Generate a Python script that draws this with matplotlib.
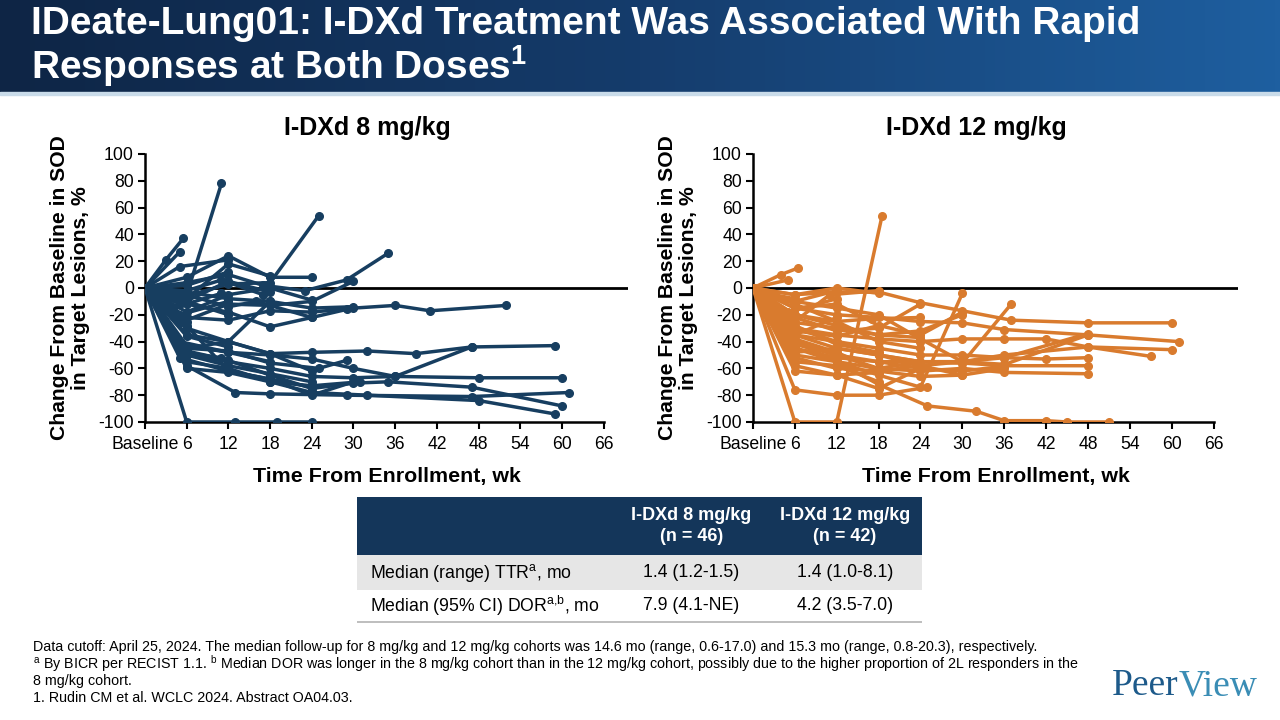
import numpy as np
import matplotlib
matplotlib.use("Agg")
import matplotlib.pyplot as plt
from matplotlib.patches import Rectangle
from matplotlib.colors import LinearSegmentedColormap

plt.rcParams['font.family'] = ['Liberation Sans', 'DejaVu Sans']
plt.rcParams['axes.unicode_minus'] = False

# spider plot data, % change in SOD vs week
dose8_weeks = [
    [0, 6, 13, 19, 24], [0, 6, 11], [0, 3, 5.5], [0, 5], [0, 6, 12, 18, 25],
    [0, 6, 12, 17, 23, 29, 35], [0, 6, 12, 18, 24], [0, 5, 12], [0, 6, 12, 18],
    [0, 6, 12, 18, 24, 30, 36, 41, 52], [0, 5, 12, 18, 24, 30], [0, 6, 12, 18, 24, 29],
    [0, 6, 12, 18, 24, 32, 39, 47, 59], [0, 6, 12, 18, 24, 30, 36, 48, 60],
    [0, 6, 12, 18, 24, 30, 35, 47, 60], [0, 6, 12, 18, 24, 32, 48, 59],
    [0, 6, 13, 18, 29, 47, 61], [0, 5, 12, 18, 24, 30], [0, 6, 12, 18, 25, 29],
    [0, 5, 12, 18, 24, 30, 36, 47], [0, 6, 12, 18, 24], [0, 5, 12], [0, 4, 11],
    [0, 6, 12, 18], [0, 6, 12, 18, 24], [0, 6, 12], [0, 6, 12, 18, 24],
    [0, 6, 12, 16, 24], [0, 6, 11, 17], [0, 5, 11], [0, 6, 12, 18],
    [0, 6, 12, 18, 24, 31], [0, 6], [0, 6, 12, 18, 24, 30],
    [0, 6, 12], [0, 5, 12, 18], [0, 6, 12, 18, 24], [0, 6, 12],
]
dose8_change = [
    [0, -100, -100, -100, -100], [0, -5, 78], [0, 21, 37], [0, 27], [0, -6, 3, 4, 54],
    [0, 4, 10, 2, -2, 6, 26], [0, 8, 24, 8, 8], [0, 16, 21], [0, -8, 18, 9],
    [0, -22, -24, -17, -18, -15, -13, -17, -13], [0, -26, -12, -13, -10, 5], [0, -12, -18, -29, -22, -16],
    [0, -45, -40, -49, -48, -47, -49, -44, -43], [0, -50, -55, -60, -66, -67, -66, -67, -67],
    [0, -47, -54, -65, -75, -71, -70, -74, -88], [0, -55, -60, -70, -78, -80, -84, -94],
    [0, -58, -78, -79, -80, -81, -78], [0, -52, -62, -68, -80, -70], [0, -45, -47, -56, -60, -54],
    [0, -40, -48, -50, -53, -60, -66, -44], [0, -30, -40, -49, -62], [0, -20, -10], [0, -15, -4],
    [0, -35, -40, -10], [0, -18, -5, 0, -9], [0, -10, -20], [0, -28, -62, -68, -74],
    [0, -5, -14, -10, -22], [0, -2, 6, -5], [0, -48, -52], [0, -43, -48, -55],
    [0, -60, -63, -70, -73, -70], [0, -25], [0, -3, -8, -10, -15, -14],
    [0, 2, 12], [0, -12, 5, -3], [0, -50, -58, -64, -70], [0, -36, -44],
]

dose12_weeks = [
    [0, 4, 6.5], [0, 5], [0, 6, 12, 18.5], [0, 6, 12, 18],
    [0, 6, 12, 18, 24, 30, 37, 48, 60], [0, 6, 12, 18, 24, 30, 36, 48, 61],
    [0, 6, 12, 18, 24, 30, 36, 42, 48, 57], [0, 6, 12, 18, 24, 30, 36, 48, 60],
    [0, 6, 12, 18, 24, 30, 36, 48], [0, 6, 12, 18, 25, 32, 36, 42, 45, 51],
    [0, 6, 12, 18, 25], [0, 6, 12, 18, 24, 30], [0, 6, 12, 18, 24, 30, 37],
    [0, 6, 12, 18, 24, 30, 36, 42, 48], [0, 6, 12, 18, 24, 30, 36, 48],
    [0, 6, 12, 18, 24, 30, 35, 48], [0, 6, 12], [0, 6, 12, 17, 24], [0, 6, 12, 18],
    [0, 5, 12, 18, 24, 30], [0, 6, 12, 18, 24], [0, 6, 12, 18], [0, 6, 12, 18, 24, 30],
    [0, 6, 12, 18, 24, 30, 36], [0, 6, 12, 18, 24], [0, 6, 12, 18], [0, 6, 12, 18, 24, 30],
    [0, 3, 6], [0, 6, 12, 18, 24, 30], [0, 6, 12, 18, 24, 30, 36],
    [0, 6, 12, 18, 24, 30, 36, 48], [0, 6, 12, 18, 24], [0, 6, 11, 18],
    [0, 5, 12], [0, 6, 12, 18], [0, 6, 12, 18, 24], [0, 6, 12],
]
dose12_change = [
    [0, 10, 15], [0, 6], [0, -100, -100, 54], [0, -5, 0, -4],
    [0, -5, -3, -3, -11, -17, -24, -26, -26], [0, -15, -20, -22, -25, -26, -31, -35, -40],
    [0, -30, -35, -38, -40, -38, -38, -38, -44, -51], [0, -35, -45, -50, -55, -55, -50, -44, -46],
    [0, -40, -50, -60, -62, -60, -63, -64], [0, -45, -55, -72, -88, -92, -99, -99, -100, -100],
    [0, -76, -80, -80, -74], [0, -40, -55, -65, -74, -4], [0, -30, -40, -50, -55, -56, -12],
    [0, -50, -55, -60, -55, -55, -52, -53, -52], [0, -35, -40, -45, -50, -50, -52, -34],
    [0, -45, -52, -55, -60, -62, -59, -35], [0, -10, -2], [0, -20, -25, -23, -22], [0, -62, -65, -63],
    [0, -25, -30, -35, -32, -20], [0, -20, -28, -35, -37], [0, -55, -58, -70], [0, -48, -45, -50, -58, -65],
    [0, -52, -60, -62, -66, -65, -60], [0, -22, -32, -30, -12], [0, -15, -12, -28], [0, -32, -36, -28, -35, -18],
    [0, -5, -8], [0, -10, -15, -20, -38, -55], [0, -38, -48, -62, -58, -55, -57],
    [0, -42, -50, -55, -55, -56, -58, -58], [0, -58, -65, -75, -60], [0, -25, -5, -2],
    [0, -18, -8], [0, -28, -42, -48], [0, -12, -25, -40, -45], [0, -35, -22],
]

x_ticks = [0, 6, 12, 18, 24, 30, 36, 42, 48, 54, 60, 66]
x_ticklabels = ["Baseline"] + [str(t) for t in x_ticks[1:]]

table_cols = ["I-DXd 8 mg/kg\n(n = 46)", "I-DXd 12 mg/kg\n(n = 42)"]
table_rows = ["Median (range) TTR$^{\\mathregular{a}}$, mo", "Median (95% CI) DOR$^{\\mathregular{a{,}b}}$, mo"]
table_vals = [["1.4 (1.2-1.5)", "1.4 (1.0-8.1)"], ["7.9 (4.1-NE)", "4.2 (3.5-7.0)"]]

W, H = 1280, 720
fig = plt.figure(figsize=(12.8, 7.2), dpi=100)

# header band
hax = fig.add_axes([0, 1 - 92 / H, 1, 92 / H])
grad = np.linspace(0, 1, 256).reshape(1, -1)
cm = LinearSegmentedColormap.from_list("hdr", ["#0e2545", "#153c6c", "#1e5fa0"])
hax.imshow(grad, aspect="auto", cmap=cm, extent=[0, 1, 0, 1])
hax.axis("off")
fig.add_artist(Rectangle((0, 1 - 95 / H), 1, 3 / H, transform=fig.transFigure,
                         color="#c9dbe9", zorder=3))
fig.text(31 / W, 1 - 24 / H, "IDeate-Lung01: I-DXd Treatment Was Associated With Rapid",
         color="white", fontsize=28, fontweight="bold", va="center", ha="left")
fig.text(31 / W, 1 - 66 / H, "Responses at Both Doses$^{\\mathregular{1}}$",
         color="white", fontsize=28, fontweight="bold", va="center", ha="left")


def spider(ax, weeks, changes, color, title):
    for wk, ch in zip(weeks, changes):
        ax.plot(wk, ch, color=color, lw=2.5, marker="o", ms=5.5, zorder=3)
    ax.axhline(0, color="black", lw=2, zorder=2)
    ax.set_xlim(0, 69.5)
    ax.set_ylim(-100, 100)
    ax.set_xticks(x_ticks)
    ax.set_xticklabels(x_ticklabels, fontsize=12.7)
    ax.set_yticks(range(-100, 101, 20))
    ax.tick_params(axis="y", labelsize=12.7, width=1.5, length=5, pad=3)
    ax.tick_params(axis="x", width=1.5, length=5, pad=5)
    for s in ["top", "right"]:
        ax.spines[s].set_visible(False)
    ax.spines["left"].set_linewidth(1.8)
    ax.spines["bottom"].set_linewidth(1.8)
    ax.spines["bottom"].set_bounds(0, 66)
    ax.set_xlabel("Time From Enrollment, wk", fontsize=15.4, fontweight="bold", labelpad=10)
    ax.set_ylabel("Change From Baseline in SOD\nin Target Lesions, %", fontsize=15.2,
                  fontweight="bold", labelpad=6, linespacing=1.15)
    ax.set_title(title, fontsize=18, fontweight="bold", pad=14, x=0.46)


ax1 = fig.add_axes([145 / W, 1 - 422 / H, 483 / W, 268 / H])
spider(ax1, dose8_weeks, dose8_change, "#173e60", "I-DXd 8 mg/kg")
ax2 = fig.add_axes([753 / W, 1 - 422 / H, 485 / W, 268 / H])
spider(ax2, dose12_weeks, dose12_change, "#d97b2e", "I-DXd 12 mg/kg")

# table
tx0, tx1, tx2, tx3 = 357, 615, 768, 922
ty = [497, 555, 590, 622]


def frect(x0, y0, x1, y1, color):
    fig.add_artist(Rectangle((x0 / W, 1 - y1 / H), (x1 - x0) / W, (y1 - y0) / H,
                             transform=fig.transFigure, color=color, lw=0))


frect(tx0, ty[0], tx3, ty[1], "#14365a")
frect(tx0, ty[1], tx3, ty[2], "#e6e6e6")
frect(tx0, ty[3] - 1, tx3, ty[3] + 1, "#bfbfbf")
for i, lab in enumerate(table_cols):
    cx = [(tx1 + tx2) / 2, (tx2 + tx3) / 2][i]
    fig.text(cx / W, 1 - 526 / H, lab, color="white", fontsize=13, fontweight="bold",
             ha="center", va="center", linespacing=1.25)
for r, lab in enumerate(table_rows):
    cy = (ty[r + 1] + ty[r + 2]) / 2
    fig.text(370 / W, 1 - cy / H, lab, fontsize=12.7, ha="left", va="center")
    for c in range(2):
        cx = [(tx1 + tx2) / 2, (tx2 + tx3) / 2][c]
        fig.text(cx / W, 1 - cy / H, table_vals[r][c], fontsize=12.7, ha="center", va="center")

# footnotes
notes = [
    "Data cutoff: April 25, 2024. The median follow-up for 8 mg/kg and 12 mg/kg cohorts was 14.6 mo (range, 0.6-17.0) and 15.3 mo (range, 0.8-20.3), respectively.",
    "$^{\\mathregular{a}}$ By BICR per RECIST 1.1. $^{\\mathregular{b}}$ Median DOR was longer in the 8 mg/kg cohort than in the 12 mg/kg cohort, possibly due to the higher proportion of 2L responders in the",
    "8 mg/kg cohort.",
    "1. Rudin CM et al. WCLC 2024. Abstract OA04.03.",
]
for i, n in enumerate(notes):
    fig.text(33 / W, 1 - (647 + i * 17) / H, n, fontsize=10.3, ha="left", va="center")

fig.text(1112 / W, 1 - 686 / H, "Peer", family="Liberation Serif", fontsize=27,
         color="#1d5a8a", ha="left", va="center")
fig.text(1179 / W, 1 - 686 / H, "View", family="Liberation Serif", fontsize=27,
         color="#3a8db5", ha="left", va="center")

fig.savefig("out.png", dpi=100)
